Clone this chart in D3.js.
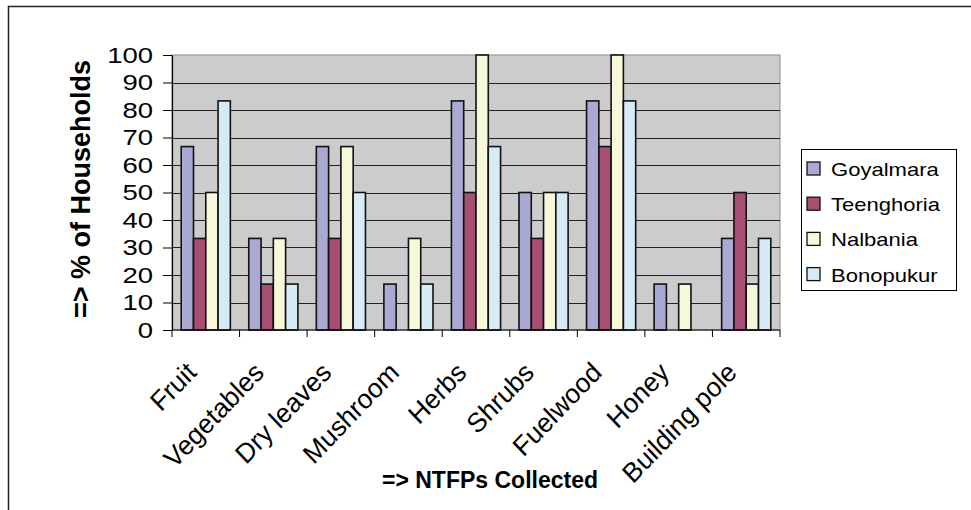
<!DOCTYPE html>
<html>
<head>
<meta charset="utf-8">
<script src="https://cdn.jsdelivr.net/npm/d3@7"></script>
<style>
  body { margin: 0; background: #fff; }
  text { font-family: "Liberation Sans", Arial, sans-serif; }
</style>
</head>
<body>
<svg id="chart" width="971" height="510"></svg>
<script>
// NTFPs collected, % of households per village
const categories = ["Fruit", "Vegetables", "Dry leaves", "Mushroom", "Herbs",
                    "Shrubs", "Fuelwood", "Honey", "Building pole"];
const seriesNames = ["Goyalmara", "Teenghoria", "Nalbania", "Bonopukur"];
const goyalmara  = [66.7, 33.3, 66.7, 16.7, 83.3, 50, 83.3, 16.7, 33.3];
const teenghoria = [33.3, 16.7, 33.3, 0, 50, 33.3, 66.7, 0, 50];
const nalbania   = [50, 33.3, 66.7, 33.3, 100, 50, 100, 16.7, 16.7];
const bonopukur  = [83.3, 16.7, 50, 16.7, 66.7, 50, 83.3, 0, 33.3];
const yTicks = [0, 10, 20, 30, 40, 50, 60, 70, 80, 90, 100];

const seriesValues = [goyalmara, teenghoria, nalbania, bonopukur];
const colors = ["#A9A9D3", "#A64F72", "#F7F7D9", "#D7EBF7"];

const svg = d3.select("#chart");
const plot = { left: 172, right: 780, top: 55, bottom: 330 };

// outer chart border (right/bottom edges run off the picture)
svg.append("rect")
    .attr("x", 8.5).attr("y", 6.5)
    .attr("width", 980).attr("height", 520)
    .attr("fill", "#fff")
    .attr("stroke", "#222").attr("stroke-width", 1.5);

const x0 = d3.scaleBand()
    .domain(categories)
    .range([plot.left, plot.right])
    .padding(0);

// Excel style gap width 150% of a bar
const bw = x0.bandwidth();
const gap = bw * 1.5 / 5.5;
const x1 = d3.scaleBand()
    .domain(seriesNames)
    .range([gap / 2, bw - gap / 2]);

const y = d3.scaleLinear()
    .domain([0, 100])
    .range([plot.bottom, plot.top]);

// plot background
svg.append("rect")
    .attr("x", plot.left).attr("y", plot.top)
    .attr("width", plot.right - plot.left)
    .attr("height", plot.bottom - plot.top)
    .attr("fill", "#CCCCCC")
    .attr("stroke", "#8a8a8a").attr("stroke-width", 1);

// gridlines
svg.append("g")
    .selectAll("line")
    .data(yTicks.filter(d => d > 0 && d < 100))
    .join("line")
    .attr("x1", plot.left).attr("x2", plot.right)
    .attr("y1", d => Math.round(y(d)) + 0.5)
    .attr("y2", d => Math.round(y(d)) + 0.5)
    .attr("stroke", "#222").attr("stroke-width", 1);

// bars
const groups = svg.append("g")
    .selectAll("g")
    .data(categories)
    .join("g")
    .attr("transform", d => `translate(${x0(d)},0)`);

groups.selectAll("rect")
    .data((c, i) => seriesNames.map((s, k) => ({ s, k, v: seriesValues[k][i] })))
    .join("rect")
    .filter(d => d.v > 0)
    .attr("x", d => x1(d.s))
    .attr("y", d => y(d.v))
    .attr("width", x1.bandwidth())
    .attr("height", d => y(0) - y(d.v))
    .attr("fill", d => colors[d.k])
    .attr("stroke", "#111").attr("stroke-width", 1.6);

// y axis
const yAxis = svg.append("g")
    .attr("transform", `translate(${plot.left},0)`)
    .call(d3.axisLeft(y).tickValues(yTicks).tickSize(9).tickSizeOuter(0));
yAxis.select(".domain").attr("stroke", "#000").attr("stroke-width", 1.2);
yAxis.selectAll(".tick line").attr("stroke", "#000");
yAxis.selectAll(".tick text")
    .attr("x", 0)
    .attr("dy", "0.34em")
    .attr("transform", "translate(-19,0) scale(1.25,1)")
    .attr("font-size", 22)
    .attr("fill", "#000")
    .style("font-family", "'Liberation Sans', Arial, sans-serif");

// x axis line and ticks at category boundaries
svg.append("line")
    .attr("x1", plot.left).attr("x2", plot.right)
    .attr("y1", plot.bottom).attr("y2", plot.bottom)
    .attr("stroke", "#000").attr("stroke-width", 1.2);
svg.append("g")
    .selectAll("line")
    .data(categories.map(c => x0(c)).concat([plot.right]))
    .join("line")
    .attr("x1", d => d).attr("x2", d => d)
    .attr("y1", plot.bottom).attr("y2", plot.bottom + 7)
    .attr("stroke", "#000");

// category labels, rotated
svg.append("g")
    .selectAll("text")
    .data(categories)
    .join("text")
    .attr("transform", d => `translate(${x0(d) + bw / 2 - 8},374) scale(1,1.05) rotate(-45)`)
    .attr("text-anchor", "end")
    .attr("font-size", 26)
    .text(d => d);

// axis titles
svg.append("text")
    .attr("transform", "translate(90,189) rotate(-90)")
    .attr("text-anchor", "middle")
    .attr("font-size", 27)
    .attr("font-weight", "bold")
    .text("=> % of Households");

svg.append("text")
    .attr("x", 490).attr("y", 488)
    .attr("text-anchor", "middle")
    .attr("font-size", 23)
    .attr("font-weight", "bold")
    .text("=> NTFPs Collected");

// legend
const legend = svg.append("g");
legend.append("rect")
    .attr("x", 801.5).attr("y", 149.5)
    .attr("width", 155).attr("height", 141)
    .attr("fill", "#fff")
    .attr("stroke", "#000").attr("stroke-width", 1);

const item = legend.selectAll("g.item")
    .data(seriesNames)
    .join("g")
    .attr("class", "item")
    .attr("transform", (d, i) => `translate(807,${162 + i * 35.2})`);
item.append("rect")
    .attr("width", 13).attr("height", 13)
    .attr("fill", (d, i) => colors[i])
    .attr("stroke", "#111").attr("stroke-width", 1.3);
item.append("text")
    .attr("transform", "translate(24,14) scale(1.16,1)")
    .attr("font-size", 19)
    .text(d => d);
</script>
</body>
</html>
